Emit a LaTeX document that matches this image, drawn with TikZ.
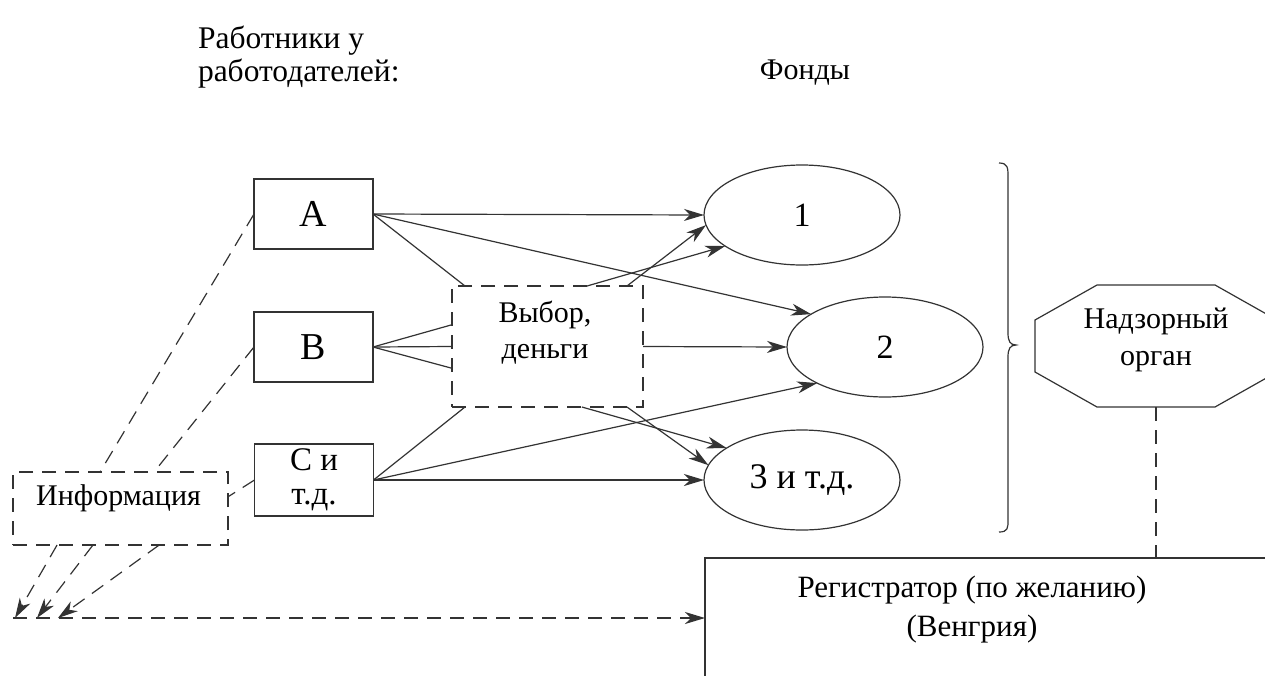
\documentclass[tikz,border=0pt]{standalone}
\usepackage{fontspec}
\setmainfont{Liberation Serif}
\usetikzlibrary{calc,arrows.meta,shapes.geometric}
\newcommand{\fs}[2]{\fontsize{#1}{#2}\selectfont}
\begin{document}
\begin{tikzpicture}[x=1pt,y=-1pt,
  every node/.style={inner sep=0pt,outer sep=0pt},
  ln/.style={draw=black!80,line width=1.2pt},
  dsh/.style={draw=black!80,line width=1.2pt,dash pattern=on 14pt off 9pt},
  arr/.style={-{Stealth[length=20pt,width=12pt,inset=6pt]}},
  box/.style={ln,rectangle,minimum width=119pt},
  fund/.style={ln,ellipse,minimum width=196pt,minimum height=100pt,font=\fs{34}{40}},
  txt/.style={align=center,font=\fs{30}{36}}]
\clip (0,0) rectangle (1265,675);
\fill[white] (0,0) rectangle (1265,675);

% headings
\node[txt,align=left,anchor=west,font=\fs{31.5}{33}] (hw) at (198,57) {Работники у\\работодателей:};
\node[txt,anchor=base] (hf) at (805,79) {Фонды};

% employers
\node[box,minimum height=70pt,font=\fs{38}{40}] (A) at (313.5,214) {А};
\node[box,minimum height=70pt,font=\fs{38}{40}] (B) at (313.5,347) {В};
\node[box,minimum height=72pt,txt,font=\fs{33}{34}] (C) at (314,480) {С и\\т.д.};

% choice and money
\node[dsh,rectangle,minimum width=191pt,minimum height=121pt] (vb) at (547.5,346.5) {};
\node[txt] (vbt) at (545,333) {Выбор,\\деньги};

% funds
\node[fund] (e1) at (802,215) {1};
\node[fund] (e2) at (885,347) {2};
\node[fund,font=\fs{36}{40}] (e3) at (802,480) {3 и т.д.};

% information
\node[dsh,rectangle,minimum width=215pt,minimum height=73pt] (info) at (120.5,508.5) {};
\node[txt,anchor=base] (infot) at (118.5,505) {Информация};

% supervisory body
\node[rectangle,minimum width=242pt,minimum height=122pt] (nad) at (1156,346) {};
\draw[ln] ($(nad.north west)+(62,0)$) -- ($(nad.north east)+(-62,0)$)
  -- ($(nad.north east)+(0,35)$) -- ($(nad.south east)+(0,-35)$)
  -- ($(nad.south east)+(-62,0)$) -- ($(nad.south west)+(62,0)$)
  -- ($(nad.south west)+(0,-35)$) -- ($(nad.north west)+(0,35)$) -- cycle;
\node[txt,font=\fs{30}{37}] (nadt) at (1156,339.5) {Надзорный\\орган};

% registrar
\node[ln,rectangle,minimum width=600pt,minimum height=157pt] (reg) at (1005,636.5) {};
\node[txt,font=\fs{31}{39}] (regt) at (972,610) {Регистратор (по желанию)\\(Венгрия)};

% brace around the funds
\draw[ln] (999,163) .. controls (1008,163) and (1008,168) .. (1008,177)
  -- (1008,333) .. controls (1008,341) and (1010,345) .. (1016,345)
  .. controls (1010,345) and (1008,349) .. (1008,357)
  -- (1008,520) .. controls (1008,528) and (1008,532) .. (999,532);

% money flows
\draw[ln,arr] (A.east) -- (e1.west);
\draw[ln,arr] (A.east) -- (e2.156);
\draw[ln] (A.east) -- ($(vb.north west)!0.068!(vb.north east)$);
\draw[ln] (B.east) -- ($(vb.north west)!0.32!(vb.south west)$);
\draw[ln] (B.east) -- (vb.west);
\draw[ln] (B.east) -- ($(vb.north west)!0.68!(vb.south west)$);
\draw[ln] (C.east) -- ($(vb.south west)!0.068!(vb.south east)$);
\draw[ln,arr] (C.east) -- (e2.208);
\draw[ln,arr] (C.east) -- (e3.west);
\draw[ln,arr] ($(vb.north west)!0.707!(vb.north east)$) -- (e1.202);
\draw[ln,arr] ($(vb.north west)!0.916!(vb.north east)$) -- (e1.186);
\draw[ln,arr] (vb.east) -- (e2.west);
\draw[ln,arr] ($(vb.south west)!0.68!(vb.south east)$) -- (e3.157);
\draw[ln,arr] ($(vb.south west)!0.916!(vb.south east)$) -- (e3.171);

% information flows
\draw[dsh] (A.west) -- ($(info.north west)!0.405!(info.north east)$);
\draw[dsh] (B.west) -- ($(info.north west)!0.656!(info.north east)$);
\draw[dsh] (C.west) -- ($(info.north east)!0.34!(info.south east)$);
\coordinate (h0) at (13,618);
\coordinate (t1) at (15,618);
\coordinate (t2) at (37,618);
\coordinate (t3) at (58,618);
\draw[dsh,arr] ($(info.south west)!0.205!(info.south east)$) -- (t1);
\draw[dsh,arr] ($(info.south west)!0.372!(info.south east)$) -- (t2);
\draw[dsh,arr] ($(info.south west)!0.68!(info.south east)$) -- (t3);
\draw[dsh,arr] (h0) -- ($(reg.north west)!(h0)!(reg.south west)$);
\draw[dsh] (nad.south) -- ($(reg.north west)!(nad.south)!(reg.north east)$);
\end{tikzpicture}
\end{document}
